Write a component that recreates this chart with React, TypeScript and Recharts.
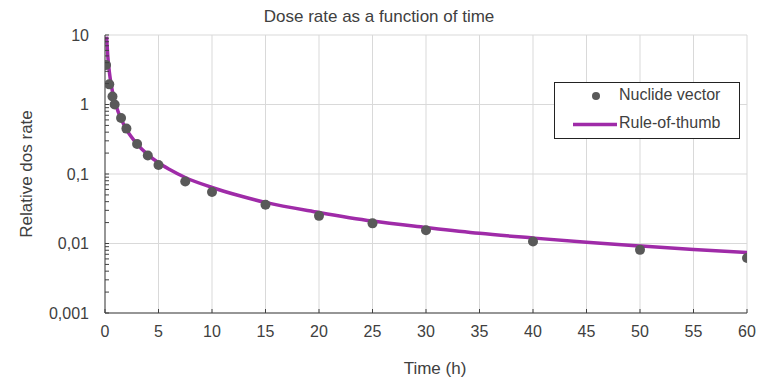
import React from 'react';
import {
  ComposedChart, Line, Scatter, XAxis, YAxis, CartesianGrid, Legend, Label
} from 'recharts';

// measured points (nuclide vector)
const scatterTimes = [0.1, 0.4, 0.7, 0.9, 1.5, 2, 3, 4, 5, 7.5, 10, 15, 20, 25, 30, 40, 50, 60];
const scatterValues = [3.7, 1.95, 1.3, 1.0, 0.64, 0.45, 0.27, 0.185, 0.135, 0.078, 0.055, 0.036, 0.025, 0.0195, 0.0155, 0.0107, 0.0081, 0.0062];

// rule-of-thumb curve
const lineTimes = [0.15, 0.25, 0.4, 0.6, 0.8, 1, 1.5, 2, 3, 4, 5, 6, 7.5, 10, 12.5, 15, 20, 25, 30, 35, 40, 45, 50, 55, 60];
const lineValues = [9.5, 5.2, 3.0, 1.85, 1.3, 1.0, 0.62, 0.44, 0.27, 0.19, 0.145, 0.117, 0.089, 0.064, 0.049, 0.039, 0.028, 0.021, 0.017, 0.014, 0.012, 0.0104, 0.0092, 0.0082, 0.0074];

const xTicks = [0, 5, 10, 15, 20, 25, 30, 35, 40, 45, 50, 55, 60];
const yTicks = [0.001, 0.01, 0.1, 1, 10];
const yAllTicks = [
  0.001, 0.002, 0.003, 0.004, 0.005, 0.006, 0.007, 0.008, 0.009,
  0.01, 0.02, 0.03, 0.04, 0.05, 0.06, 0.07, 0.08, 0.09,
  0.1, 0.2, 0.3, 0.4, 0.5, 0.6, 0.7, 0.8, 0.9,
  1, 2, 3, 4, 5, 6, 7, 8, 9, 10,
];

const scatterData = scatterTimes.map((t, i) => ({ t, v: scatterValues[i] }));
const lineData = lineTimes.map((t, i) => ({ t, v: lineValues[i] }));

const FONT = '"Liberation Sans", Arial, sans-serif';
const TEXT = '#404040';
const AXIS = '#404040';
const PURPLE = '#9f2ba8';
const DOT = '#595959';

const fmt = (v: number) => String(v).replace('.', ',');

// y tick: small inward mark for every tick, label only on decades
const YTick = (props: any) => {
  const { x, y, payload } = props;
  const ax = x + 16;
  const major = yTicks.includes(payload.value);
  return (
    <g>
      <line x1={ax} x2={ax + 4} y1={y} y2={y} stroke={AXIS} strokeWidth={1} />
      {major && (
        <text x={x} y={y} dy="0.355em" textAnchor="end" fill={TEXT} fontSize={16} fontFamily={FONT}>
          {fmt(payload.value)}
        </text>
      )}
    </g>
  );
};

const XTick = (props: any) => {
  const { x, y, payload } = props;
  const ay = y - 13;
  return (
    <g>
      <line x1={x} x2={x} y1={ay - 4} y2={ay} stroke={AXIS} strokeWidth={1} />
      <text x={x} y={y} dy="0.71em" textAnchor="middle" fill={TEXT} fontSize={16} fontFamily={FONT}>
        {payload.value}
      </text>
    </g>
  );
};

const LegendBox = () => (
  <div style={{
    border: '1px solid #222', background: '#fff', width: 186, height: 57,
    fontFamily: FONT, fontSize: 16, color: TEXT, boxSizing: 'border-box', position: 'relative',
  }}>
    <svg width={64} height={55} style={{ position: 'absolute', left: 0, top: 0 }}>
      <circle cx={41} cy={13} r={4} fill={DOT} />
      <line x1={18} x2={62} y1={41.5} y2={41.5} stroke={PURPLE} strokeWidth={3.5} />
    </svg>
    <div style={{ position: 'absolute', left: 64, top: 3 }}>Nuclide vector</div>
    <div style={{ position: 'absolute', left: 64, top: 31 }}>Rule-of-thumb</div>
  </div>
);

export default function App() {
  return (
    <div style={{ position: 'absolute', left: 0, top: 0, width: 764, height: 380, background: '#fff', fontFamily: FONT }}>
      <div style={{ position: 'absolute', top: 7, left: 0, width: 758, textAlign: 'center', fontSize: 17, color: TEXT }}>
        Dose rate as a function of time
      </div>
      <ComposedChart width={764} height={380} margin={{ top: 35, right: 17, left: 45, bottom: 37 }}>
        <CartesianGrid stroke="#d9d9d9" strokeWidth={1} horizontalValues={yTicks} verticalValues={xTicks} />
        <XAxis
          type="number" dataKey="t" domain={[0, 60]} ticks={xTicks} allowDataOverflow
          height={30} tickLine={false} tickSize={6} tickMargin={7}
          axisLine={{ stroke: AXIS }} tick={<XTick />}
        >
          <Label content={() => (
            <text x={435} y={374} textAnchor="middle" fill={TEXT} fontSize={17} fontFamily={FONT}>Time (h)</text>
          )} />
        </XAxis>
        <YAxis
          type="number" dataKey="v" scale="log" domain={[0.001, 10]} ticks={yAllTicks} allowDataOverflow
          width={60} tickLine={false} tickSize={6} tickMargin={10} interval={0}
          axisLine={{ stroke: AXIS }} tick={<YTick />}
        >
          <Label content={() => (
            <text x={32} y={174} transform="rotate(-90 32 174)" textAnchor="middle" fill={TEXT} fontSize={17} fontFamily={FONT}>Relative dos rate</text>
          )} />
        </YAxis>
        <Line
          data={lineData} dataKey="v" type="monotone" stroke={PURPLE} strokeWidth={3.5}
          dot={false} activeDot={false} isAnimationActive={false} legendType="line" name="Rule-of-thumb"
        />
        <Scatter
          data={scatterData} dataKey="v" fill={DOT} isAnimationActive={false} name="Nuclide vector"
          shape={(p: any) => <circle cx={p.cx} cy={p.cy} r={5} fill={DOT} />}
        />
        <Legend
          layout="vertical" align="center" verticalAlign="middle"
          wrapperStyle={{ left: 554, top: 82, width: 186, height: 57 }}
          content={() => <LegendBox />}
        />
      </ComposedChart>
    </div>
  );
}
